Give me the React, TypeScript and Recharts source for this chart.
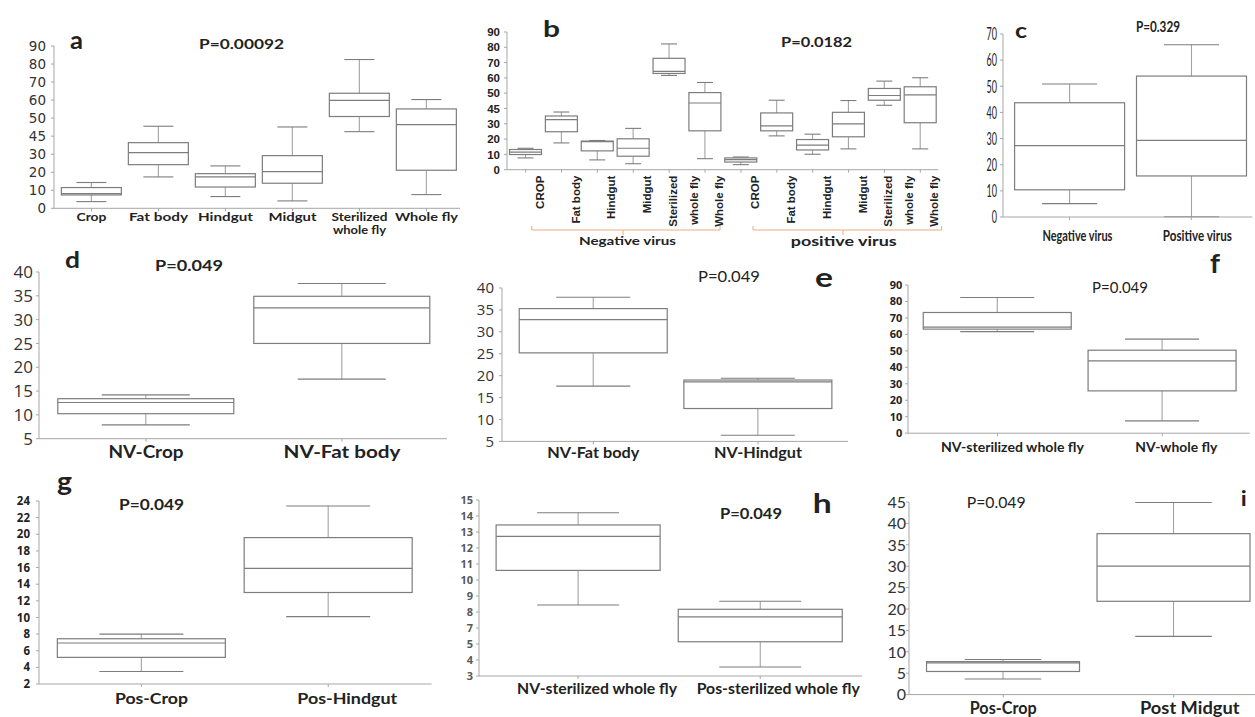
import React from "react";
import { Bar, BarChart, XAxis, YAxis } from "recharts";

const LATO = "Lato, 'Open Sans', sans-serif";
const OPEN = "'Open Sans', sans-serif";
const LIB = "'Liberation Sans', Arial, sans-serif";
const DEJAVU = "'DejaVu Sans', sans-serif";

const BOX = "#7d7d7d";
const WHISKER = "#a3a3a3";
const AXIS = "#a6a6a6";

// ---- a: all samples by tissue
const A_CATEGORIES = ["Crop", "Fat body", "Hindgut", "Midgut", "Sterilized\nwhole fly", "Whole fly"];
const A_MIN = [3.7, 17.4, 6.5, 4.1, 42.5, 7.6];
const A_Q1 = [7.4, 24.2, 11.8, 13.9, 50.9, 21.1];
const A_MEDIAN = [8.1, 30.9, 17.4, 20.3, 59.9, 46.4];
const A_Q3 = [11.5, 36.4, 19.2, 29.2, 63.8, 55.1];
const A_MAX = [14.3, 45.5, 23.5, 45.1, 82.5, 60.3];
const AB_TICKS = [0, 10, 20, 30, 40, 50, 60, 70, 80, 90];
const AB_TICK_LABELS = ["0", "10", "20", "30", "45", "50", "60", "70", "80", "90"];

// ---- b: negative virus (first six) and positive virus (last six)
const B_CATEGORIES = [
  "CROP", "Fat body", "Hindgut", "Midgut", "Sterilized\nwhole fly", "Whole fly",
  "CROP", "Fat body", "Hindgut", "Midgut", "Sterilized\nwhole fly", "Whole fly",
];
const B_MIN = [7.7, 17.5, 6.4, 3.9, 61.6, 7.2, 3.3, 22.1, 10.1, 13.6, 42.1, 13.6];
const B_Q1 = [9.9, 24.8, 12.3, 8.8, 62.9, 25.4, 5.0, 25.4, 12.9, 21.5, 45.4, 30.7];
const B_MEDIAN = [11.5, 32.7, 18.4, 14.0, 64.3, 43.6, 6.6, 28.7, 16.0, 30.0, 48.5, 48.9];
const B_Q3 = [13.2, 35.1, 18.7, 20.2, 72.8, 50.4, 7.7, 37.1, 19.7, 37.5, 53.1, 54.2];
const B_MAX = [14.0, 37.7, 19.1, 27.0, 82.2, 57.0, 8.3, 45.4, 23.2, 45.2, 57.9, 60.1];

// ---- c
const C_CATEGORIES = ["Negative virus", "Positive virus"];
const C_MIN = [5.1, 0.1];
const C_Q1 = [10.4, 15.7];
const C_MEDIAN = [27.3, 29.3];
const C_Q3 = [43.7, 53.9];
const C_MAX = [50.9, 65.9];
const C_TICKS = [0, 10, 20, 30, 40, 50, 60, 70];

// ---- d
const D_CATEGORIES = ["NV-Crop", "NV-Fat body"];
const D_MIN = [7.9, 17.5];
const D_Q1 = [10.25, 25.0];
const D_MEDIAN = [12.6, 32.45];
const D_Q3 = [13.4, 34.9];
const D_MAX = [14.2, 37.6];
const DE_TICKS = [5, 10, 15, 20, 25, 30, 35, 40];

// ---- e
const E_CATEGORIES = ["NV-Fat body", "NV-Hindgut"];
const E_MIN = [17.6, 6.4];
const E_Q1 = [25.2, 12.5];
const E_MEDIAN = [32.8, 18.6];
const E_Q3 = [35.3, 19.0];
const E_MAX = [37.9, 19.4];

// ---- f
const F_CATEGORIES = ["NV-sterilized whole fly", "NV-whole fly"];
const F_MIN = [61.7, 7.5];
const F_Q1 = [63.2, 25.7];
const F_MEDIAN = [64.4, 43.9];
const F_Q3 = [73.3, 50.4];
const F_MAX = [82.4, 57.1];
const F_TICKS = [0, 10, 20, 30, 40, 50, 60, 70, 80, 90];

// ---- g
const G_CATEGORIES = ["Pos-Crop", "Pos-Hindgut"];
const G_MIN = [3.5, 10.1];
const G_Q1 = [5.2, 13.0];
const G_MEDIAN = [6.93, 15.9];
const G_Q3 = [7.44, 19.6];
const G_MAX = [8.0, 23.4];
const G_TICKS = [2, 4, 6, 8, 10, 12, 14, 16, 18, 20, 22, 24];

// ---- h (values on the drawn axis steps: the printed labels skip 6)
const H_CATEGORIES = ["NV-sterilized whole fly", "Pos-sterilized whole fly"];
const H_MIN = [8.44, 4.56];
const H_Q1 = [10.6, 6.14];
const H_MEDIAN = [12.73, 7.7];
const H_Q3 = [13.44, 8.17];
const H_MAX = [14.2, 8.67];
const H_TICKS = [4, 5, 6, 7, 8, 9, 10, 11, 12, 13, 14, 15];
const H_TICK_LABELS = ["3", "4", "5", "7", "8", "9", "10", "11", "12", "13", "14", "15"];

// ---- i
const I_CATEGORIES = ["Pos-Crop", "Post Midgut"];
const I_MIN = [3.65, 13.6];
const I_Q1 = [5.4, 21.8];
const I_MEDIAN = [7.4, 30.0];
const I_Q3 = [7.7, 37.6];
const I_MAX = [8.2, 44.9];
const I_TICKS = [0, 5, 10, 15, 20, 25, 30, 35, 40, 45];

type Row = {
  name: string;
  label: string;
  range: [number, number];
  min: number;
  q1: number;
  median: number;
  q3: number;
  max: number;
};

const buildRows = (
  labels: string[],
  min: number[],
  q1: number[],
  median: number[],
  q3: number[],
  max: number[],
): Row[] =>
  labels.map((label, i) => ({
    name: String(i),
    label,
    range: [min[i], max[i]],
    min: min[i],
    q1: q1[i],
    median: median[i],
    q3: q3[i],
    max: max[i],
  }));

type TextStyle = {
  size: number;
  weight?: number;
  color?: string;
  family?: string;
};

interface PanelSpec {
  rows: Row[];
  axisX: number;
  top: number;
  bottom: number;
  right: number;
  padL: number;
  padR: number;
  extraRight?: number;
  domain: [number, number];
  ticks: number[];
  tickLabels?: string[];
  yText: TextStyle & { gap: number; squeeze?: number };
  xText: TextStyle & {
    baseline: number;
    lineHeight?: number;
    widths?: Record<string, number>;
    shifts?: number[];
  };
  rotated?: boolean;
}

function Txt(props: {
  x: number;
  y: number;
  children: string;
  size: number;
  weight?: number;
  color?: string;
  family?: string;
  anchor?: "start" | "middle" | "end";
  width?: number;
  dy?: string;
  transform?: string;
}) {
  const { x, y, children, size, weight = 400, color = "#222", family = LATO, anchor = "start", width, dy, transform } = props;
  return (
    <text
      x={x}
      y={y}
      dy={dy}
      fontSize={size}
      fontWeight={weight}
      fill={color}
      fontFamily={family}
      textAnchor={anchor}
      textLength={width}
      lengthAdjust={width ? "spacingAndGlyphs" : undefined}
      transform={transform}
    >
      {children}
    </text>
  );
}

// draws one box and whiskers inside the range bar [min, max]
const BoxShape = (props: any) => {
  const { x, y, width, height, payload } = props;
  const top = Math.min(y, y + height);
  const h = Math.abs(height);
  const { min, q1, median, q3, max } = payload as Row;
  const py = (v: number) => top + (h * (max - v)) / (max - min);
  const cx = x + width / 2;
  const cap = width / 4;
  return (
    <g>
      <line x1={cx} x2={cx} y1={py(max)} y2={py(q3)} stroke={WHISKER} strokeWidth={1.1} />
      <line x1={cx} x2={cx} y1={py(q1)} y2={py(min)} stroke={WHISKER} strokeWidth={1.1} />
      <line x1={cx - cap} x2={cx + cap} y1={py(max)} y2={py(max)} stroke={BOX} strokeWidth={1.1} />
      <line x1={cx - cap} x2={cx + cap} y1={py(min)} y2={py(min)} stroke={BOX} strokeWidth={1.1} />
      <rect x={x} y={py(q3)} width={width} height={Math.max(py(q1) - py(q3), 0.5)} fill="#fff" stroke={BOX} strokeWidth={1.2} />
      <line x1={x} x2={x + width} y1={py(median)} y2={py(median)} stroke={BOX} strokeWidth={1.2} />
    </g>
  );
};

const YW = 70;
const MT = 12;
const XH = 80;

function BoxPanel({ spec }: { spec: PanelSpec }) {
  const { axisX, top, bottom, right, yText, xText } = spec;
  const extra = spec.extraRight ?? 0;
  const left = axisX - YW;
  const width = right - left + extra;
  const divTop = top - MT;
  const height = bottom - divTop + XH;

  const renderYTick = (p: any) => {
    const value = p.payload.value;
    const idx = spec.ticks.indexOf(value);
    const label = spec.tickLabels ? spec.tickLabels[idx] : String(value);
    return (
      <Txt
        x={YW - yText.gap}
        y={p.y}
        dy="0.36em"
        anchor="end"
        size={yText.size}
        weight={yText.weight}
        color={yText.color}
        family={yText.family}
        width={yText.squeeze ? label.length * yText.squeeze : undefined}
      >
        {label}
      </Txt>
    );
  };

  const renderXTick = (p: any) => {
    const index = p.index ?? p.payload?.index ?? 0;
    const row = spec.rows[index];
    if (!row) return <g />;
    const lines = row.label.split("\n");
    const base = xText.baseline - divTop;
    if (spec.rotated) {
      return (
        <g>
          {lines.map((ln, k) => {
            const lx = p.x + 18 + (k - (lines.length - 1) / 2) * 21;
            return (
              <Txt
                key={k}
                x={lx}
                y={base}
                anchor="end"
                size={xText.size}
                weight={xText.weight}
                color={xText.color}
                family={xText.family}
                transform={`rotate(-90, ${lx}, ${base})`}
              >
                {ln}
              </Txt>
            );
          })}
        </g>
      );
    }
    const shift = xText.shifts ? xText.shifts[index] : 0;
    return (
      <g>
        {lines.map((ln, k) => (
          <Txt
            key={k}
            x={p.x + shift}
            y={base + k * (xText.lineHeight ?? 13)}
            anchor="middle"
            size={xText.size}
            weight={xText.weight}
            color={xText.color}
            family={xText.family}
            width={xText.widths?.[ln]}
          >
            {ln}
          </Txt>
        ))}
      </g>
    );
  };

  return (
    <div style={{ position: "absolute", left, top: divTop, width, height }}>
      <BarChart
        width={width}
        height={height}
        data={spec.rows}
        margin={{ top: MT, right: extra, bottom: 0, left: 0 }}
        barCategoryGap="5%"
      >
        <XAxis
          dataKey="name"
          type="category"
          height={XH}
          interval={0}
          padding={{ left: spec.padL, right: spec.padR }}
          axisLine={{ stroke: AXIS }}
          tickLine={{ stroke: AXIS }}
          tickSize={3}
          tick={renderXTick}
        />
        <YAxis
          type="number"
          domain={spec.domain}
          ticks={spec.ticks}
          interval={0}
          width={YW}
          axisLine={{ stroke: AXIS }}
          tickLine={{ stroke: AXIS }}
          tickSize={3}
          tick={renderYTick}
        />
        <Bar dataKey="range" shape={BoxShape} isAnimationActive={false} />
      </BarChart>
    </div>
  );
}

const PANELS: PanelSpec[] = [
  {
    rows: buildRows(A_CATEGORIES, A_MIN, A_Q1, A_MEDIAN, A_Q3, A_MAX),
    axisX: 54, top: 45.7, bottom: 208, right: 460, padL: 4, padR: 0,
    domain: [0, 90], ticks: AB_TICKS, tickLabels: AB_TICK_LABELS,
    yText: { size: 13.5, family: DEJAVU, color: "#333", gap: 8 },
    xText: {
      size: 12, weight: 700, family: LATO, baseline: 221, lineHeight: 13,
      widths: { Crop: 30, "Fat body": 59, Hindgut: 55, Midgut: 48, Sterilized: 56, "whole fly": 53, "Whole fly": 63 },
    },
  },
  {
    rows: buildRows(B_CATEGORIES, B_MIN, B_Q1, B_MEDIAN, B_Q3, B_MAX),
    axisX: 506.7, top: 32.3, bottom: 170, right: 938, padL: 0.7, padR: 0, extraRight: 40,
    domain: [0, 90], ticks: AB_TICKS, tickLabels: AB_TICK_LABELS,
    yText: { size: 11.5, weight: 700, family: LIB, color: "#222", gap: 7 },
    xText: { size: 11.5, weight: 700, family: LIB, baseline: 176 },
    rotated: true,
  },
  {
    rows: buildRows(C_CATEGORIES, C_MIN, C_Q1, C_MEDIAN, C_Q3, C_MAX),
    axisX: 1002.7, top: 34.3, bottom: 217.3, right: 1252, padL: 5.5, padR: 0, extraRight: 3,
    domain: [0, 70], ticks: C_TICKS,
    yText: { size: 17.5, family: LATO, color: "#222", gap: 6, squeeze: 5.2 },
    xText: {
      size: 16, weight: 700, family: LATO, baseline: 241,
      widths: { "Negative virus": 70, "Positive virus": 69 }, shifts: [8, 6],
    },
  },
  {
    rows: buildRows(D_CATEGORIES, D_MIN, D_Q1, D_MEDIAN, D_Q3, D_MAX),
    axisX: 39, top: 272.3, bottom: 439, right: 447, padL: 9, padR: 7,
    domain: [5, 40], ticks: DE_TICKS,
    yText: { size: 17, family: OPEN, color: "#333", gap: 6 },
    xText: {
      size: 17, weight: 700, family: LATO, baseline: 458,
      widths: { "NV-Crop": 75, "NV-Fat body": 117 }, shifts: [0, 0],
    },
  },
  {
    rows: buildRows(E_CATEGORIES, E_MIN, E_Q1, E_MEDIAN, E_Q3, E_MAX),
    axisX: 501.7, top: 288.3, bottom: 441.7, right: 848, padL: 9, padR: 8,
    domain: [5, 40], ticks: DE_TICKS,
    yText: { size: 15, family: OPEN, color: "#333", gap: 8 },
    xText: {
      size: 15, weight: 700, family: LATO, baseline: 458,
      widths: { "NV-Fat body": 92, "NV-Hindgut": 88 }, shifts: [0, 0],
    },
  },
  {
    rows: buildRows(F_CATEGORIES, F_MIN, F_Q1, F_MEDIAN, F_Q3, F_MAX),
    axisX: 908.3, top: 285.1, bottom: 433.3, right: 1250, padL: 7, padR: 5,
    domain: [0, 90], ticks: F_TICKS,
    yText: { size: 11, weight: 700, family: OPEN, color: "#222", gap: 5.6 },
    xText: {
      size: 14, weight: 700, family: LATO, baseline: 452,
      widths: { "NV-sterilized whole fly": 143, "NV-whole fly": 82 }, shifts: [15, 14],
    },
  },
  {
    rows: buildRows(G_CATEGORIES, G_MIN, G_Q1, G_MEDIAN, G_Q3, G_MAX),
    axisX: 39.3, top: 501, bottom: 684, right: 432, padL: 9, padR: 10,
    domain: [2, 24], ticks: G_TICKS,
    yText: { size: 11.5, weight: 700, family: OPEN, color: "#222", gap: 9 },
    xText: {
      size: 16, weight: 700, family: LATO, baseline: 704,
      widths: { "Pos-Crop": 73, "Pos-Hindgut": 100 }, shifts: [10, 19],
    },
  },
  {
    rows: buildRows(H_CATEGORIES, H_MIN, H_Q1, H_MEDIAN, H_Q3, H_MAX),
    axisX: 478.7, top: 500, bottom: 676, right: 862, padL: 8, padR: 11,
    domain: [4, 15], ticks: H_TICKS, tickLabels: H_TICK_LABELS,
    yText: { size: 11, weight: 700, family: OPEN, color: "#595959", gap: 6 },
    xText: {
      size: 15, weight: 700, family: LATO, baseline: 694,
      widths: { "NV-sterilized whole fly": 160, "Pos-sterilized whole fly": 163 }, shifts: [19, 18],
    },
  },
  {
    rows: buildRows(I_CATEGORIES, I_MIN, I_Q1, I_MEDIAN, I_Q3, I_MAX),
    axisX: 909.3, top: 501.7, bottom: 694.3, right: 1260, padL: 9, padR: 0.7,
    domain: [0, 45], ticks: I_TICKS,
    yText: { size: 16, family: LATO, color: "#333", gap: 3 },
    xText: {
      size: 17, weight: 700, family: LATO, baseline: 714,
      widths: { "Pos-Crop": 67, "Post Midgut": 99.5 }, shifts: [0, 16],
    },
  },
];

export default function App() {
  return (
    <div
      style={{
        position: "absolute",
        left: 0,
        top: 0,
        width: 1255,
        height: 717,
        overflow: "hidden",
        background: "#fff",
      }}
    >
      {PANELS.map((spec, i) => (
        <BoxPanel key={i} spec={spec} />
      ))}

      <svg
        width={1255}
        height={717}
        style={{ position: "absolute", left: 0, top: 0, pointerEvents: "none" }}
      >
        {/* panel letters */}
        <Txt x={70} y={49} size={24} weight={700} width={13}>a</Txt>
        <Txt x={543} y={37} size={22} weight={700} width={17}>b</Txt>
        <Txt x={1015} y={38} size={21} weight={700} width={12}>c</Txt>
        <Txt x={65} y={268} size={23} weight={700} width={15}>d</Txt>
        <Txt x={815} y={286.7} size={27} weight={700} width={18}>e</Txt>
        <Txt x={1210} y={273} size={27} weight={700} width={10}>f</Txt>
        <Txt x={57} y={491} size={26} weight={700} width={15}>g</Txt>
        <Txt x={812.7} y={513} size={27} weight={700} width={19}>h</Txt>
        <Txt x={1240.7} y={506} size={20} weight={700} width={6}>i</Txt>

        {/* p values */}
        <Txt x={199} y={49} size={14} weight={700} width={85}>P=0.00092</Txt>
        <Txt x={781} y={46.7} size={13} weight={700} width={71}>P=0.0182</Txt>
        <Txt x={1136} y={31.7} size={16} weight={700} width={44}>P=0.329</Txt>
        <Txt x={155} y={271} size={16} weight={700} width={68}>P=0.049</Txt>
        <Txt x={698} y={281.7} size={16} width={62}>P=0.049</Txt>
        <Txt x={1092} y={293} size={15} width={56}>P=0.049</Txt>
        <Txt x={119} y={510} size={15} weight={700} width={65}>P=0.049</Txt>
        <Txt x={720} y={519} size={15} weight={700} width={62}>P=0.049</Txt>
        <Txt x={966.7} y={508} size={16} width={59}>P=0.049</Txt>

        {/* group brackets under b */}
        <path d="M531.7,226 L531.7,230 L720,230 L720,226 M623,230 L623,235" fill="none" stroke="#f0aa80" strokeWidth={1} />
        <path d="M753,226 L753,230 L941.7,230 L941.7,226 M843,230 L843,235" fill="none" stroke="#f0aa80" strokeWidth={1} />
        <Txt x={627.5} y={245} size={12} weight={700} anchor="middle" width={97}>Negative virus</Txt>
        <Txt x={843.7} y={246} size={12.5} weight={700} anchor="middle" width={106}>positive virus</Txt>
      </svg>
    </div>
  );
}
